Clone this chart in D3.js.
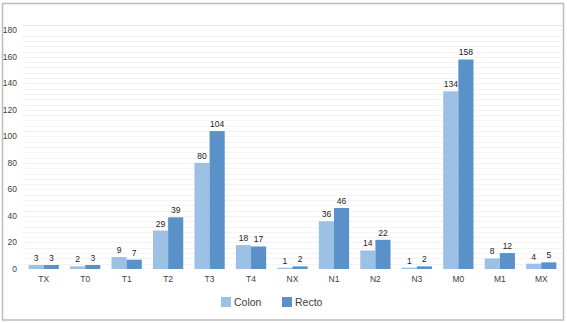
<!DOCTYPE html>
<html>
<head>
<meta charset="utf-8">
<script src="https://cdn.jsdelivr.net/npm/d3@7"></script>
<style>
  body { margin: 0; background: #fff; }
  svg { display: block; font-family: 'Liberation Sans', Arial, sans-serif; }
</style>
</head>
<body>
<div id="chart"></div>
<script>
// data
const categories = ['TX', 'T0', 'T1', 'T2', 'T3', 'T4', 'NX', 'N1', 'N2', 'N3', 'M0', 'M1', 'MX']
const colon = [3, 2, 9, 29, 80, 18, 1, 36, 14, 1, 134, 8, 4]
const recto = [3, 3, 7, 39, 104, 17, 2, 46, 22, 2, 158, 12, 5]
const seriesNames = ['Colon', 'Recto']
const yTicks = [0, 20, 40, 60, 80, 100, 120, 140, 160, 180]

// size
const W = 567
const H = 323
const margin = { left: 23, right: 5, top: 25, bottom: 54 }
const width = W - margin.left - margin.right
const height = H - margin.top - margin.bottom

// style
const colors = { Colon: '#9dc1e5', Recto: '#5a91c9' }

const x0 = d3.scaleBand().domain(categories).range([0, width]).paddingInner(0.27).paddingOuter(0.135)
const x1 = d3.scaleBand().domain(seriesNames).range([0, x0.bandwidth()])
const y = d3.scaleLinear().domain([0, 184]).range([height, 0])

const rows = categories.map((c, i) => ({ cat: c, Colon: colon[i], Recto: recto[i] }))

const svg = d3.select('#chart').append('svg').attr('width', W).attr('height', H)

// frame
svg.append('rect')
  .attr('x', 2.5).attr('y', 3.5)
  .attr('width', 561).attr('height', 316.5)
  .attr('fill', 'none').attr('stroke', '#bdbdbd').attr('stroke-width', 1.5)

const plot = svg.append('g').attr('transform', `translate(${margin.left}, ${margin.top})`)

// faint minor gridlines every 4
plot.append('g')
  .selectAll('line')
  .data(d3.range(4, 185, 4))
  .join('line')
  .attr('x1', 0).attr('x2', width)
  .attr('y1', d => Math.round(y(d)) + 0.5).attr('y2', d => Math.round(y(d)) + 0.5)
  .attr('stroke', d => (d === 184 ? '#e4e4e4' : '#f4f4f4'))
  .attr('stroke-width', 1)

// y axis labels
plot.append('g')
  .selectAll('text')
  .data(yTicks)
  .join('text')
  .attr('x', -6)
  .attr('y', d => y(d))
  .attr('dy', '0.35em')
  .attr('text-anchor', 'end')
  .attr('font-size', '8.5px')
  .attr('fill', '#404040')
  .text(d => d)

// x axis labels
plot.append('g')
  .selectAll('text')
  .data(categories)
  .join('text')
  .attr('x', d => x0(d) + x0.bandwidth() / 2)
  .attr('y', height + 13)
  .attr('text-anchor', 'middle')
  .attr('font-size', '8.5px')
  .attr('fill', '#404040')
  .text(d => d)

// bars
const groups = plot.append('g')
  .selectAll('g')
  .data(rows)
  .join('g')
  .attr('transform', d => `translate(${x0(d.cat)}, 0)`)

groups.selectAll('rect')
  .data(d => seriesNames.map(k => ({ key: k, value: d[k] })))
  .join('rect')
  .attr('x', d => x1(d.key))
  .attr('y', d => y(d.value))
  .attr('width', x1.bandwidth())
  .attr('height', d => y(0) - y(d.value))
  .attr('fill', d => colors[d.key])

groups.selectAll('text')
  .data(d => seriesNames.map(k => ({ key: k, value: d[k] })))
  .join('text')
  .attr('x', d => x1(d.key) + x1.bandwidth() / 2)
  .attr('y', d => y(d.value) - 4)
  .attr('text-anchor', 'middle')
  .attr('font-size', '8.5px')
  .attr('fill', '#222')
  .text(d => d.value)

// legend
const legend = svg.append('g').attr('transform', 'translate(221, 297)')
const item = legend.selectAll('g')
  .data(seriesNames)
  .join('g')
  .attr('transform', (d, i) => `translate(${i * 61}, 0)`)
item.append('rect')
  .attr('width', 10).attr('height', 10)
  .attr('fill', d => colors[d])
item.append('text')
  .attr('x', 13).attr('y', 5)
  .attr('dy', '0.35em')
  .attr('font-size', '10.5px')
  .attr('fill', '#404040')
  .text(d => d)
</script>
</body>
</html>
